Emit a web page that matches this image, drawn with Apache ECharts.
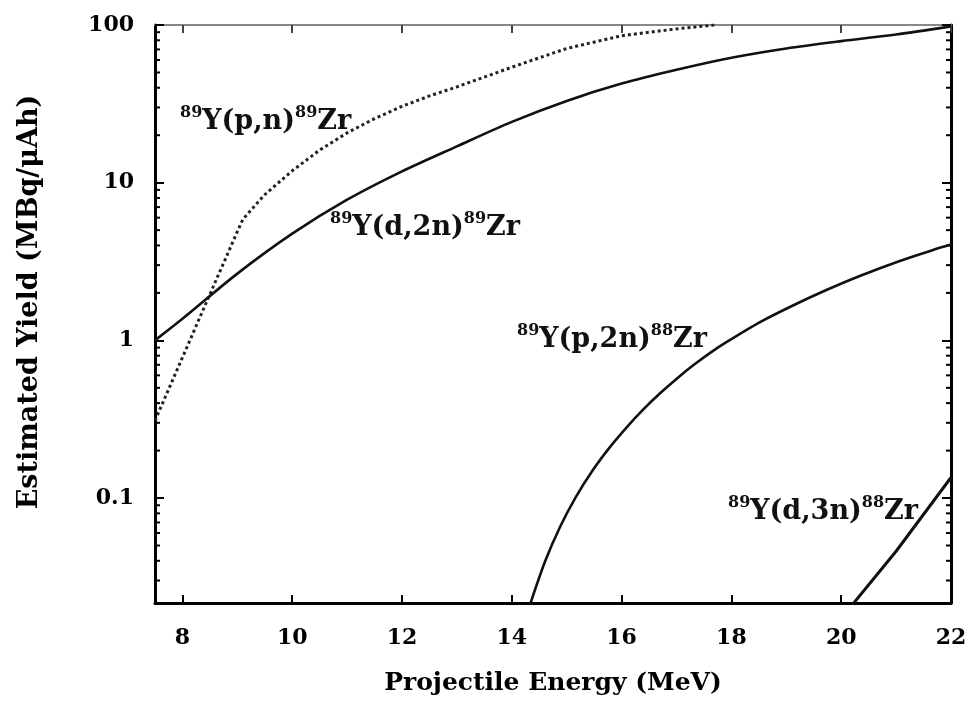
<!DOCTYPE html>
<html>
<head>
<meta charset="utf-8">
<script src="https://cdn.jsdelivr.net/npm/echarts@6/dist/echarts.min.js"></script>
<style>html,body{margin:0;padding:0;background:#fff}#c{width:978px;height:704px}</style>
</head>
<body>
<div id="c"></div>
<script>
// ---- data ----
const xTickLabels = ['8','10','12','14','16','18','20','22'];
const yTickLabels = ['0.1','1','10','100'];
const yMinorTicks = [0.03,0.04,0.05,0.06,0.07,0.08,0.09,
                     0.2,0.3,0.4,0.5,0.6,0.7,0.8,0.9,
                     2,3,4,5,6,7,8,9,
                     20,30,40,50,60,70,80,90];

const seriesNames = ['89Y(p,n)89Zr','89Y(d,2n)89Zr','89Y(p,2n)88Zr','89Y(d,3n)88Zr'];

const energyPN = [7.5, 8.0, 8.5, 9.0, 9.1, 9.5, 10.0, 10.5, 11.0, 11.5, 12.0, 12.5, 13.0, 14.0, 15.0, 16.0, 17.0, 17.7];
const yieldPN  = [0.31, 0.78, 1.96, 4.9, 5.85, 8.4, 11.9, 16.1, 20.7, 25.5, 30.5, 35.5, 40.5, 54, 71, 85.5, 94.5, 100];

const energyD2N = [7.5, 8, 9, 10, 11, 12, 13, 14, 15, 16, 17, 18, 19, 20, 21, 22];
const yieldD2N  = [1.0, 1.37, 2.65, 4.75, 7.8, 11.8, 17.0, 24.3, 33.0, 42.5, 52, 62, 71, 79, 87, 98];

const energyP2N = [14.33, 14.61, 14.88, 15.16, 15.48, 15.79, 16.10, 16.40, 16.71, 17.02, 17.31, 17.62, 17.93, 18.53, 19.13, 19.75, 20.35, 21.08, 21.68, 22.0];
const yieldP2N  = [0.021, 0.040, 0.0658, 0.1007, 0.151, 0.211, 0.283, 0.366, 0.465, 0.578, 0.697, 0.836, 0.984, 1.31, 1.67, 2.10, 2.57, 3.20, 3.75, 4.05];

const energyD3N = [20.2, 21.0, 22.0];
const yieldD3N  = [0.021, 0.046, 0.135];

const X_MIN = 7.5, X_MAX = 22, Y_MIN = 0.0216, Y_MAX = 100;

// ---- build chart ----
const zip = (a, b) => a.map((v, i) => [v, b[i]]);
const FONT = 'DejaVu Serif';
const xTickValues = xTickLabels.map(Number);
const yTickValues = yTickLabels.map(Number);

function yFmt(v) {
  const s = String(parseFloat(Number(v).toPrecision(4)));
  return yTickLabels.indexOf(s) >= 0 ? s : '';
}
function xFmt(v) {
  const s = String(parseFloat(Number(v).toPrecision(4)));
  return xTickLabels.indexOf(s) >= 0 ? s : '';
}

function richLabel(name) {
  const m = name.match(/^(\d+)(.*?\))(\d+)(.*)$/);
  return '{s|' + m[1] + '}{m|' + m[2] + '}{s|' + m[3] + '}{m|' + m[4] + '}';
}
const richStyle = {
  s: {fontFamily: FONT, fontWeight: 'bold', fontSize: 16, fill: '#111', verticalAlign: 'top', lineHeight: 17},
  m: {fontFamily: FONT, fontWeight: 'bold', fontSize: 27, fill: '#111', lineHeight: 34}
};
const labelPos = [[180, 122], [330, 228], [517, 340], [728, 512]];

const chart = echarts.init(document.getElementById('c'), null, {renderer: 'canvas'});
const axisLabelStyle = {fontFamily: FONT, fontWeight: 'bold', fontSize: 22, color: '#000'};

const option = {
  animation: false,
  backgroundColor: '#fff',
  grid: {left: 155, right: 27, top: 25, bottom: 101, containLabel: false},
  xAxis: [{
    type: 'value', min: X_MIN, max: X_MAX, position: 'bottom',
    axisLine: {onZero: false, lineStyle: {color: '#000', width: 3}},
    axisTick: {inside: true, length: 8, customValues: xTickValues, lineStyle: {color: '#000', width: 2}},
    axisLabel: Object.assign({margin: 24, formatter: xFmt, customValues: xTickValues}, axisLabelStyle),
    splitLine: {show: false},
    name: 'Projectile Energy (MeV)', nameLocation: 'middle', nameGap: 68,
    nameTextStyle: {fontFamily: FONT, fontWeight: 'bold', fontSize: 25, color: '#000'}
  }, {
    type: 'value', min: X_MIN, max: X_MAX, position: 'top',
    axisLine: {onZero: false, lineStyle: {color: '#888', width: 2}},
    axisTick: {inside: true, length: 8, customValues: xTickValues, lineStyle: {color: '#444', width: 2}},
    axisLabel: {show: false}, splitLine: {show: false}
  }],
  yAxis: [{
    type: 'log', logBase: 10, min: Y_MIN, max: Y_MAX, position: 'left',
    axisLine: {onZero: false, lineStyle: {color: '#000', width: 3}},
    axisTick: {inside: true, length: 9, customValues: yTickValues, lineStyle: {color: '#000', width: 2}},
    axisLabel: Object.assign({margin: 21, formatter: yFmt, customValues: yTickValues}, axisLabelStyle),
    splitLine: {show: false},
    name: 'Estimated Yield (MBq/μAh)', nameLocation: 'middle', nameGap: 112,
    nameTextStyle: {fontFamily: FONT, fontWeight: 'bold', fontSize: 27, color: '#000', padding: [0, 0, 0, 24]}
  }, {
    type: 'log', logBase: 10, min: Y_MIN, max: Y_MAX, position: 'right',
    axisLine: {onZero: false, lineStyle: {color: '#000', width: 3}},
    axisTick: {inside: true, length: 9, customValues: yTickValues, lineStyle: {color: '#000', width: 2}},
    axisLabel: {show: false}, splitLine: {show: false}
  }],
  series: [
    {
      name: seriesNames[0], type: 'line', data: zip(energyPN, yieldPN), showSymbol: false,
      lineStyle: {color: '#222', width: 3, type: [3, 3]}, clip: true
    },
    {
      name: seriesNames[1], type: 'line', data: zip(energyD2N, yieldD2N), showSymbol: false, smooth: 0.3,
      lineStyle: {color: '#111', width: 2.6}, clip: true
    },
    {
      name: seriesNames[2], type: 'line', data: zip(energyP2N, yieldP2N), showSymbol: false, smooth: 0.3,
      lineStyle: {color: '#111', width: 2.6}, clip: true
    },
    {
      name: seriesNames[3], type: 'line', data: zip(energyD3N, yieldD3N), showSymbol: false,
      lineStyle: {color: '#111', width: 3}, clip: true
    },
    {
      type: 'custom', silent: true, clip: false,
      data: yMinorTicks.map(v => [X_MIN, v]),
      encode: {x: 0, y: 1},
      renderItem: function (params, api) {
        const cs = params.coordSys;
        const y = api.coord([X_MIN, api.value(1)])[1];
        const st = {stroke: '#000', lineWidth: 2};
        return {
          type: 'group', children: [
            {type: 'line', shape: {x1: cs.x, y1: y, x2: cs.x + 5, y2: y}, style: st},
            {type: 'line', shape: {x1: cs.x + cs.width - 5, y1: y, x2: cs.x + cs.width, y2: y}, style: st}
          ]
        };
      }
    }
  ],
  graphic: seriesNames.map((n, i) => ({
    type: 'text', x: labelPos[i][0], y: labelPos[i][1], z: 10,
    style: {text: richLabel(n), rich: richStyle, align: 'left', verticalAlign: 'middle'}
  }))
};
chart.setOption(option);
</script>
</body>
</html>
